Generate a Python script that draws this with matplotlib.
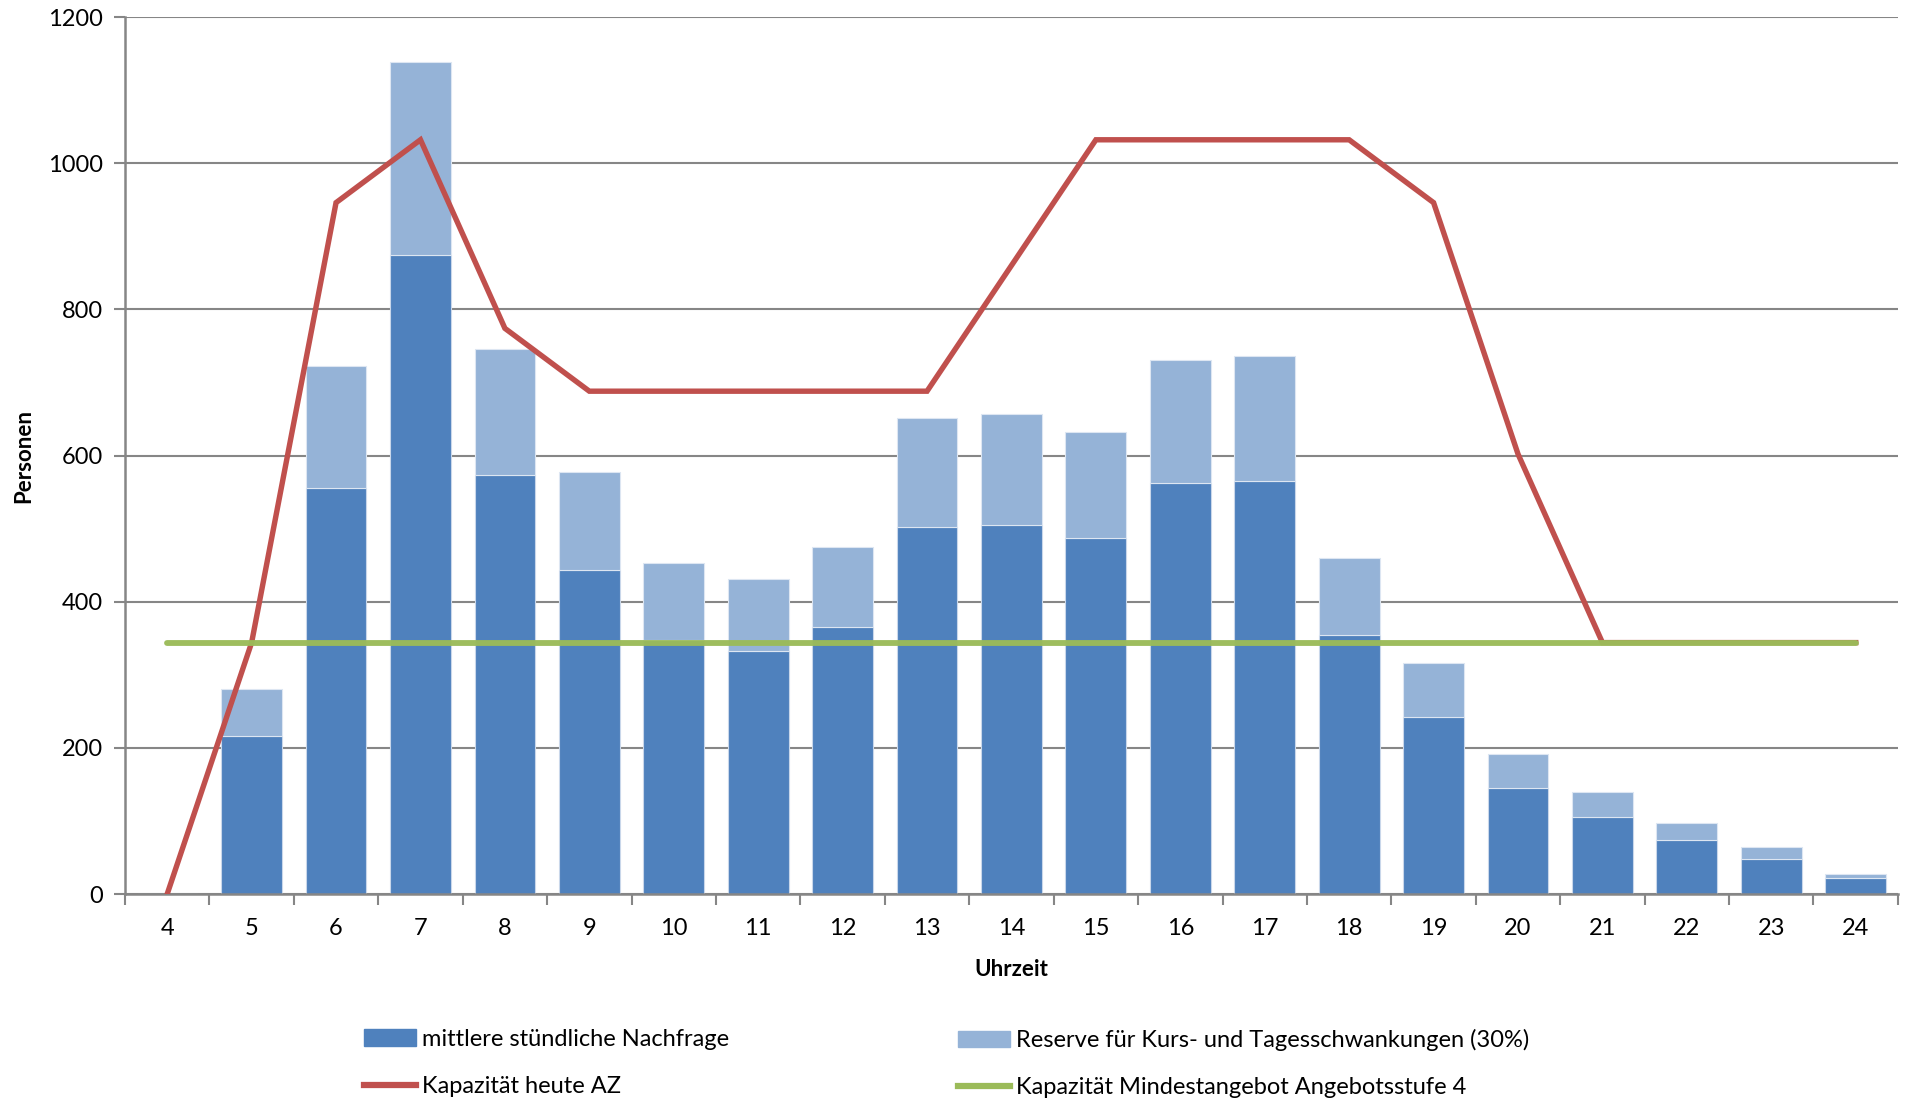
import matplotlib
matplotlib.use("Agg")
import matplotlib.pyplot as plt
import numpy as np
from matplotlib.patches import Patch
from matplotlib.lines import Line2D

plt.rcParams['font.family'] = ['Lato', 'DejaVu Sans']

hours = [str(h) for h in range(4, 25)]
demand = [0, 216, 555, 875, 574, 443, 348, 333, 366, 502, 505, 487, 562, 565, 355, 242, 145, 105, 74, 48, 22]
reserve = [0, 65, 167, 264, 172, 134, 105, 98, 109, 150, 152, 145, 169, 171, 105, 74, 46, 34, 23, 16, 6]
cap_today = [0, 344, 946, 1032, 774, 688, 688, 688, 688, 688, 860, 1032, 1032, 1032, 1032, 946, 602, 344, 344, 344, 344]
cap_min = [344] * 21

c_dark = '#4F81BD'
c_light = '#95B3D7'
c_red = '#C0504D'
c_green = '#9BBB59'
c_grid = '#868686'

fig = plt.figure(figsize=(19.14, 11.04), dpi=100)
ax = fig.add_axes([0.0653, 0.1902, 0.9263, 0.7944])

x = np.arange(len(hours))
w = 0.72
ax.bar(x, demand, width=w, color=c_dark, edgecolor='#c9d7ea', linewidth=0.8, zorder=2)
ax.bar(x, reserve, width=w, bottom=demand, color=c_light, edgecolor='#dde6f2', linewidth=0.8, zorder=2)
ax.plot(x, cap_today, color=c_red, lw=3.9, zorder=3, solid_joinstyle='miter')
ax.plot(x, cap_min, color=c_green, lw=4.2, zorder=4, solid_capstyle='round', alpha=0.97)

ax.set_xlim(-0.5, len(hours) - 0.5)
ax.set_ylim(0, 1200)
ax.set_yticks(np.arange(0, 1201, 200))
ax.yaxis.grid(True, color=c_grid, lw=1.5)
ax.set_axisbelow(True)

ax.set_xticks(np.arange(-0.5, len(hours), 1.0))
ax.set_xticklabels([])
ax.set_xticks(x, minor=True)
ax.set_xticklabels(hours, minor=True)
ax.tick_params(axis='x', which='major', length=8, width=1.5, color=c_grid, direction='out')
ax.tick_params(axis='x', which='minor', length=0, pad=17, labelsize=17)
ax.tick_params(axis='y', length=8, width=1.5, color=c_grid, direction='out', labelsize=17, pad=8)

for s in ['top', 'right']:
    ax.spines[s].set_visible(False)
for s in ['left', 'bottom']:
    ax.spines[s].set_color(c_grid)
    ax.spines[s].set_linewidth(1.8)

ax.set_xlabel('Uhrzeit', fontsize=16, fontweight='bold', labelpad=15)
ax.set_ylabel('Personen', fontsize=16, fontweight='bold', labelpad=10)

h1 = Patch(facecolor=c_dark, edgecolor=c_dark)
h2 = Patch(facecolor=c_light, edgecolor=c_light)
h3 = Line2D([0], [0], color=c_red, lw=4.5)
h4 = Line2D([0], [0], color=c_green, lw=4.5)
kw = dict(frameon=False, fontsize=17, handlelength=2.2, handleheight=0.7, handletextpad=0.25,
          labelspacing=1.1, borderaxespad=0, borderpad=0)
fig.legend([h1, h3], ['mittlere stündliche Nachfrage', 'Kapazität heute AZ'],
           loc='upper left', bbox_to_anchor=(364 / 1914, 1 - 1029 / 1104), **kw)
fig.legend([h2, h4], ['Reserve für Kurs- und Tagesschwankungen (30%)', 'Kapazität Mindestangebot Angebotsstufe 4'],
           loc='upper left', bbox_to_anchor=(958 / 1914, 1 - 1029 / 1104), **kw)

fig.savefig('out.png', dpi=100)
